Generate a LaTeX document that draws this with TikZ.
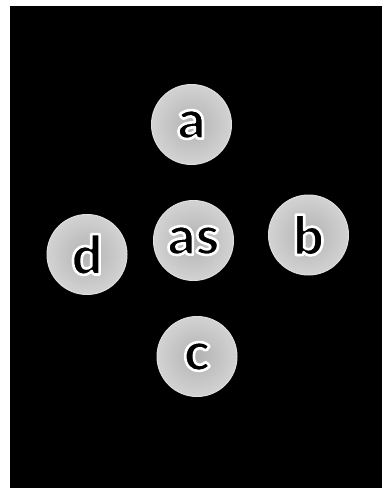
\documentclass[tikz,border=0pt]{standalone}
\usepackage{fontspec}
\setmainfont{Liberation Sans}
\newfontfamily\heavy{Lato Black}
\newcommand{\haloed}[1]{\special{pdf:literal direct q 2 Tr 1 1 1 RG 2.6 w 1 j}#1\special{pdf:literal direct Q}}
\begin{document}
\begin{tikzpicture}[x=1pt,y=-1pt,
  disc/.style={circle, minimum size=80pt, inner sep=0pt, draw=gray!25, line width=1pt,
    inner color=gray!60, outer color=gray!35},
  lbl/.style={font=\fontsize{54}{54}\selectfont\heavy, text=black, inner sep=0pt}]
\useasboundingbox (0,0) rectangle (382,490);
\fill[white] (0,0) rectangle (382,490);
\fill[black] (9.5,6) rectangle (382,488);
\node[disc] (a) at (191.5,124.5) {};
\node[disc] (as) at (193.5,240.5) {};
\node[disc] (b) at (308.5,235) {};
\node[disc] (d) at (87,254.5) {};
\node[disc] (c) at (197,356.5) {};
\node[lbl] (ta) at (a.center) {\haloed{a}};
\node[lbl] (tas) at (as.center) {\haloed{as}};
\node[lbl] (tb) at (b.center) {\haloed{b}};
\node[lbl] (td) at (d.center) {\haloed{d}};
\node[lbl] (tc) at (c.center) {\haloed{c}};
\end{tikzpicture}
\end{document}
